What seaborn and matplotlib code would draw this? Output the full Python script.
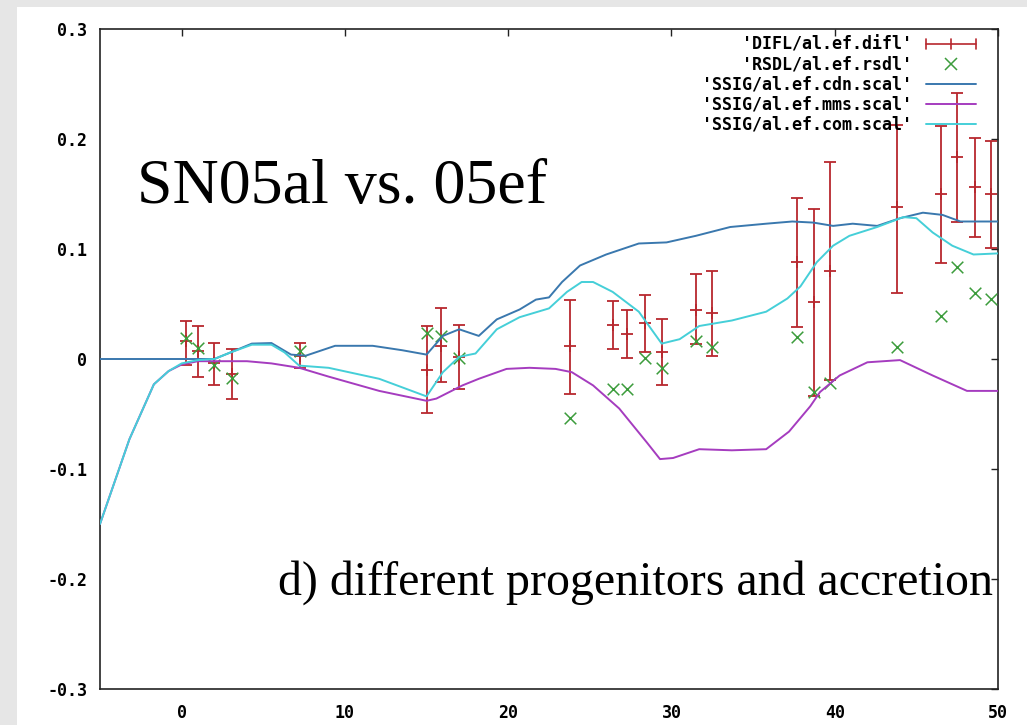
import numpy as np
import matplotlib
matplotlib.use("Agg")
import matplotlib.pyplot as plt
import seaborn as sns
from matplotlib.lines import Line2D
from matplotlib.legend_handler import HandlerBase
from matplotlib.patches import Rectangle

# ---------------- data ----------------
# DIFL error bars: x, centre, lower, upper
difl_x = [0.25, 0.98, 2.0, 3.07, 7.25, 15.0, 15.9, 17.0, 23.8, 26.4, 27.3, 28.4,
          29.4, 31.5, 32.5, 37.7, 38.7, 39.7, 43.8, 46.5, 47.5, 48.6, 49.6]
difl_y = [0.016, 0.007, -0.004, -0.014, 0.003, -0.010, 0.012, 0.002, 0.012, 0.031, 0.023, 0.033,
          0.006, 0.045, 0.042, 0.088, 0.052, 0.080, 0.138, 0.150, 0.184, 0.156, 0.150]
difl_lo = [-0.005, -0.016, -0.024, -0.036, -0.008, -0.049, -0.021, -0.027, -0.032, 0.009, 0.001, 0.006,
           -0.024, 0.014, 0.003, 0.029, -0.034, -0.019, 0.060, 0.087, 0.125, 0.111, 0.101]
difl_hi = [0.035, 0.030, 0.015, 0.009, 0.015, 0.030, 0.046, 0.031, 0.054, 0.053, 0.045, 0.058,
           0.036, 0.077, 0.080, 0.146, 0.136, 0.179, 0.213, 0.212, 0.242, 0.201, 0.198]

# RSDL points
rsdl_x = [0.25, 0.98, 2.0, 3.07, 7.25, 15.0, 15.9, 17.0, 23.8, 26.4, 27.3, 28.4,
          29.4, 31.5, 32.5, 37.7, 38.7, 39.7, 43.8, 46.5, 47.5, 48.6, 49.6]
rsdl_y = [0.019, 0.010, -0.005, -0.017, 0.007, 0.024, 0.021, 0.001, -0.054, -0.027, -0.027, 0.001,
          -0.008, 0.016, 0.011, 0.020, -0.030, -0.022, 0.011, 0.039, 0.084, 0.060, 0.055]

# SSIG cdn curve
cdn_x = [-5, 2.0, 3.0, 4.3, 5.5, 6.7, 7.6, 9.4, 11.7, 13.5, 15.0, 16.0, 17.0, 18.2, 19.3,
         20.7, 21.7, 22.5, 23.3, 24.4, 26.0, 28.0, 29.7, 31.5, 33.6, 35.8, 37.4, 38.7, 39.9,
         41.1, 42.6, 44.0, 45.4, 46.6, 47.7, 50]
cdn_y = [0.0, 0.0, 0.006, 0.014, 0.0145, 0.004, 0.003, 0.012, 0.012, 0.008, 0.004, 0.021, 0.027,
         0.021, 0.036, 0.045, 0.054, 0.056, 0.070, 0.085, 0.095, 0.105, 0.106, 0.112, 0.120, 0.123,
         0.125, 0.124, 0.121, 0.123, 0.121, 0.128, 0.133, 0.131, 0.125, 0.125]

# SSIG mms curve
mms_x = [-5, -3.2, -1.7, -0.8, 0, 1.0, 2.0, 4.0, 5.5, 7.2, 9, 12.1, 15.0, 15.6, 17.2, 18.2,
         19.9, 21.3, 22.9, 23.9, 25.2, 26.8, 28.5, 29.3, 30.1, 31.7, 33.7, 35.8, 37.2, 38.5,
         39.1, 40.3, 42.0, 44.0, 46.0, 48.1, 50]
mms_y = [-0.150, -0.073, -0.023, -0.011, -0.005, -0.002, -0.002, -0.002, -0.004, -0.008, -0.016,
         -0.029, -0.038, -0.036, -0.024, -0.018, -0.009, -0.008, -0.009, -0.012, -0.024, -0.045,
         -0.076, -0.091, -0.090, -0.082, -0.083, -0.082, -0.066, -0.043, -0.030, -0.015, -0.003,
         -0.001, -0.015, -0.029, -0.029]

# SSIG com curve
com_x = [-5, -3.2, -1.7, -0.8, 0, 1.0, 2.0, 3.0, 4.3, 5.5, 6.3, 7.2, 9, 12.1, 15.0, 16.0, 17.0,
         18.0, 19.3, 20.7, 22.5, 23.6, 24.5, 25.2, 26.4, 28.0, 29.4, 30.5, 31.7, 33.7, 35.8, 37.1,
         37.9, 38.9, 39.9, 40.9, 42.6, 44.2, 45.0, 46.0, 47.2, 48.5, 50]
com_y = [-0.150, -0.073, -0.023, -0.011, -0.004, -0.001, 0.0, 0.006, 0.013, 0.013, 0.006, -0.006,
         -0.008, -0.018, -0.034, -0.012, 0.002, 0.005, 0.027, 0.038, 0.046, 0.061, 0.070, 0.070,
         0.061, 0.043, 0.014, 0.018, 0.030, 0.035, 0.043, 0.055, 0.066, 0.088, 0.103, 0.112, 0.120,
         0.129, 0.128, 0.115, 0.103, 0.095, 0.096]

series_labels = ["'DIFL/al.ef.difl'", "'RSDL/al.ef.rsdl'", "'SSIG/al.ef.cdn.scal'",
                 "'SSIG/al.ef.mms.scal'", "'SSIG/al.ef.com.scal'"]
xtick_vals = [0, 10, 20, 30, 40, 50]
xtick_labels = ["0", "10", "20", "30", "40", "50"]
ytick_vals = [-0.3, -0.2, -0.1, 0.0, 0.1, 0.2, 0.3]
ytick_labels = ["-0.3", "-0.2", "-0.1", "0", "0.1", "0.2", "0.3"]
title_text = "SN05al vs. 05ef"
note_text = "d) different progenitors and accretion"

# ---------------- style ----------------
RED = "#b8282e"
GREEN = "#3c9c3c"
BLUE = "#3a78ae"
PURPLE = "#a53cbf"
CYAN = "#45cfd8"

sns.set_style("white")
plt.rcParams['font.family'] = ['DejaVu Sans Mono']
plt.rcParams['text.color'] = 'black'

fig = plt.figure(figsize=(10.27, 7.25), dpi=100, facecolor='#e6e6e6')
fig.patches.append(Rectangle((17 / 1027, 0), 1 - 17 / 1027, 1 - 7 / 725,
                             transform=fig.transFigure, facecolor='white',
                             edgecolor='none', zorder=-10))
ax = fig.add_axes([100 / 1027, 36 / 725, 898 / 1027, 660 / 725])
ax.set_facecolor('white')

# error bars
ax.errorbar(difl_x, difl_y,
            yerr=[np.array(difl_y) - np.array(difl_lo), np.array(difl_hi) - np.array(difl_y)],
            fmt='+', color=RED, ecolor=RED, elinewidth=1.3, capsize=4.5, capthick=1.3,
            markersize=9, mew=1.3, zorder=3)
# residual points
sns.scatterplot(x=rsdl_x, y=rsdl_y, marker='x', color=GREEN, s=70, linewidth=1.1,
                ax=ax, zorder=4, legend=False)
# curves
sns.lineplot(x=cdn_x, y=cdn_y, color=BLUE, linewidth=1.4, sort=False, estimator=None,
             ax=ax, zorder=5, legend=False)
sns.lineplot(x=mms_x, y=mms_y, color=PURPLE, linewidth=1.4, sort=False, estimator=None,
             ax=ax, zorder=6, legend=False)
sns.lineplot(x=com_x, y=com_y, color=CYAN, linewidth=1.4, sort=False, estimator=None,
             ax=ax, zorder=7, legend=False)

ax.set_xlim(-5, 50)
ax.set_ylim(-0.3, 0.3)
ax.set_xticks(xtick_vals)
ax.set_xticklabels(xtick_labels, fontweight='bold', family='DejaVu Sans Mono', fontsize=12)
ax.set_yticks(ytick_vals)
ax.set_yticklabels(ytick_labels, fontweight='bold', family='DejaVu Sans Mono', fontsize=12)
ax.tick_params(axis='both', direction='in', length=5, width=1.0, top=True, right=True,
               color='#222222', labelcolor='black')
ax.tick_params(axis='x', pad=11)
ax.tick_params(axis='y', pad=9)
for s in ax.spines.values():
    s.set_color('#222222')
    s.set_linewidth(1.2)
    s.set_visible(True)
ax.set_xlabel('')
ax.set_ylabel('')


class HandlerHErr(HandlerBase):
    def create_artists(self, legend, orig_handle, xdescent, ydescent, width, height,
                       fontsize, trans):
        y = height / 2 - ydescent
        x0 = -xdescent
        x1 = x0 + width
        c = 3.5
        arts = [Line2D([x0, x1], [y, y]),
                Line2D([x0, x0], [y - c, y + c]),
                Line2D([x1, x1], [y - c, y + c]),
                Line2D([(x0 + x1) / 2] * 2, [y - c, y + c])]
        for a in arts:
            a.set_color(RED)
            a.set_linewidth(1.2)
            a.set_transform(trans)
        return arts


h_difl = Line2D([], [], color=RED)
h_rsdl = Line2D([], [], color=GREEN, marker='x', linestyle='none', markersize=8, mew=1.1)
h_cdn = Line2D([], [], color=BLUE, linewidth=1.4)
h_mms = Line2D([], [], color=PURPLE, linewidth=1.4)
h_com = Line2D([], [], color=CYAN, linewidth=1.4)
leg = ax.legend([h_difl, h_rsdl, h_cdn, h_mms, h_com], series_labels,
                handler_map={h_difl: HandlerHErr()},
                loc='upper right', bbox_to_anchor=(0.975, 0.99), frameon=False,
                markerfirst=False, handlelength=3.0, handletextpad=0.8,
                labelspacing=0.12, borderpad=0, borderaxespad=0,
                prop={'family': 'DejaVu Sans Mono', 'weight': 'bold', 'size': 12})
for t in leg.get_texts():
    t.set_color('black')
leg.set_zorder(10)

ax.text(0.0412, 0.736, title_text, transform=ax.transAxes, family='Liberation Serif',
        fontsize=46, va='baseline', ha='left', zorder=11, color='black')
ax.text(0.1985, 0.1424, note_text, transform=ax.transAxes, family='Liberation Serif',
        fontsize=34.5, va='baseline', ha='left', zorder=11, color='black')

fig.savefig('out.png', dpi=100, facecolor=fig.get_facecolor())
